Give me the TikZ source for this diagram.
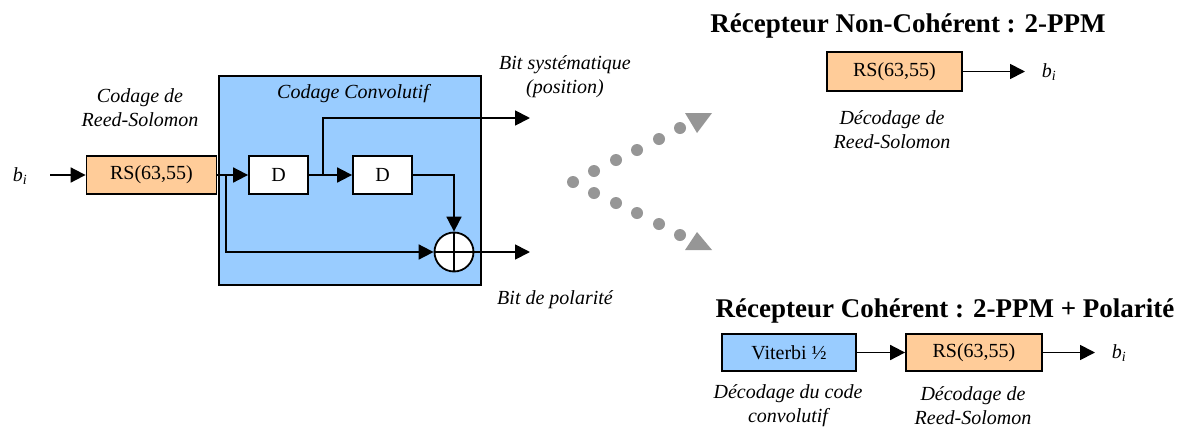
\documentclass[tikz,border=0pt]{standalone}
\usepackage{fontspec}
\setmainfont{Liberation Serif}
\usetikzlibrary{arrows.meta}
\definecolor{rsorange}{HTML}{FFCC99}
\definecolor{convblue}{HTML}{99CCFF}
\definecolor{dotgray}{RGB}{150,150,150}

\begin{document}
\begin{tikzpicture}
[x=1pt,y=-1pt,line width=1.8pt,>={Triangle[length=15pt,width=15pt]},
 every node/.style={font=\fontsize{20}{24}\selectfont},
 block/.style={draw,rectangle,inner sep=0pt,minimum height=38pt},
 rsblock/.style={block,fill=rsorange,minimum width=130pt},
 dblock/.style={block,fill=white,minimum width=59pt},
 vitblock/.style={block,fill=convblue,minimum width=134pt},
 convbox/.style={draw,rectangle,fill=convblue,minimum width=262pt,minimum height=209pt},
 xorcirc/.style={draw,circle,fill=white,minimum size=39pt,inner sep=0pt},
 lbl/.style={font=\itshape\fontsize{20}{24}\selectfont,align=center},
 rxtitle/.style={font=\bfseries\fontsize{27}{32}\selectfont,anchor=base}]
  \useasboundingbox (0,0) rectangle (1184,432);

  % emetteur
  \node (bin) at (20,176) {\textit{b\textsubscript{i}}};
  \coordinate (in) at (50,175);
  \node[rsblock] (rs) at (151.5,175) {RS(63,55)};
  \node[lbl] (rslbl) at (140,108) {Codage de\\Reed-Solomon};
  \node[convbox] (conv) at (350,180.5) {};
  \node[lbl] (convlbl) at (353,94) {Codage Convolutif};
  \node[dblock] (d1) at (278.5,175) {D};
  \node[dblock] (d2) at (382.5,175) {D};
  \node[xorcirc] (xor) at (454,252) {};
  \draw (xor.north) -- (xor.south) (xor.west) -- (xor.east);
  \coordinate (br1) at (226,175);
  \coordinate (br2) at (323,175);
  \coordinate (outa) at (530,118);
  \coordinate (outb) at (530,252);
  \draw[->] (in) -- (rs);
  \draw[->] (rs) -- (d1);
  \draw[->] (d1) -- (d2);
  \draw[->] (br2) |- (outa);
  \draw[->] (d2) -| (xor);
  \draw[->] (br1) |- (xor);
  \draw[->] (xor) -- (outb);
  \node[lbl] (bsys) at (565,77) {Bit systématique\\(position)};
  \node[lbl] (bpol) at (555,300) {Bit de polarité};

  % les deux choix de recepteur
  \foreach \px/\py in {573/182, 594/171, 616/160, 637/150, 659/139, 680/128,
                       594/193, 616/203, 637/213, 659/224, 680/235}
    \fill[dotgray] (\px,\py) circle[radius=6];
  \fill[dotgray] (685,113) -- (712,113) -- (697,133) -- cycle;
  \fill[dotgray] (685,250) -- (712,250) -- (697,232) -- cycle;

  % recepteur non coherent
  \node[rxtitle] (tnc) at (908,32) {Récepteur Non-Cohérent : 2-PPM};
  \node[rsblock,minimum width=135pt,minimum height=39pt] (rsnc) at (894.5,71.5) {RS(63,55)};
  \coordinate (outnc) at (1025,71.5);
  \node (bnc) at (1049,72) {\textit{b\textsubscript{i}}};
  \node[lbl] (lblnc) at (892,130) {Décodage de\\Reed-Solomon};
  \draw[->] (rsnc) -- (outnc);

  % recepteur coherent
  \node[rxtitle] (tc) at (945,317) {Récepteur Cohérent : 2-PPM + Polarité};
  \node[vitblock,minimum height=37pt] (vit) at (789,352.5) {Viterbi ½};
  \node[rsblock,minimum width=136pt,minimum height=37pt] (rsc) at (974,352.5) {RS(63,55)};
  \coordinate (outc) at (1095,352.5);
  \node (bc) at (1119,353) {\textit{b\textsubscript{i}}};
  \node[lbl] (lblvit) at (788,406) {Décodage du code\\convolutif};
  \node[lbl] (lblrsc) at (973,406) {Décodage de\\Reed-Solomon};
  \draw[->] (vit) -- (rsc);
  \draw[->] (rsc) -- (outc);
\end{tikzpicture}
\end{document}
